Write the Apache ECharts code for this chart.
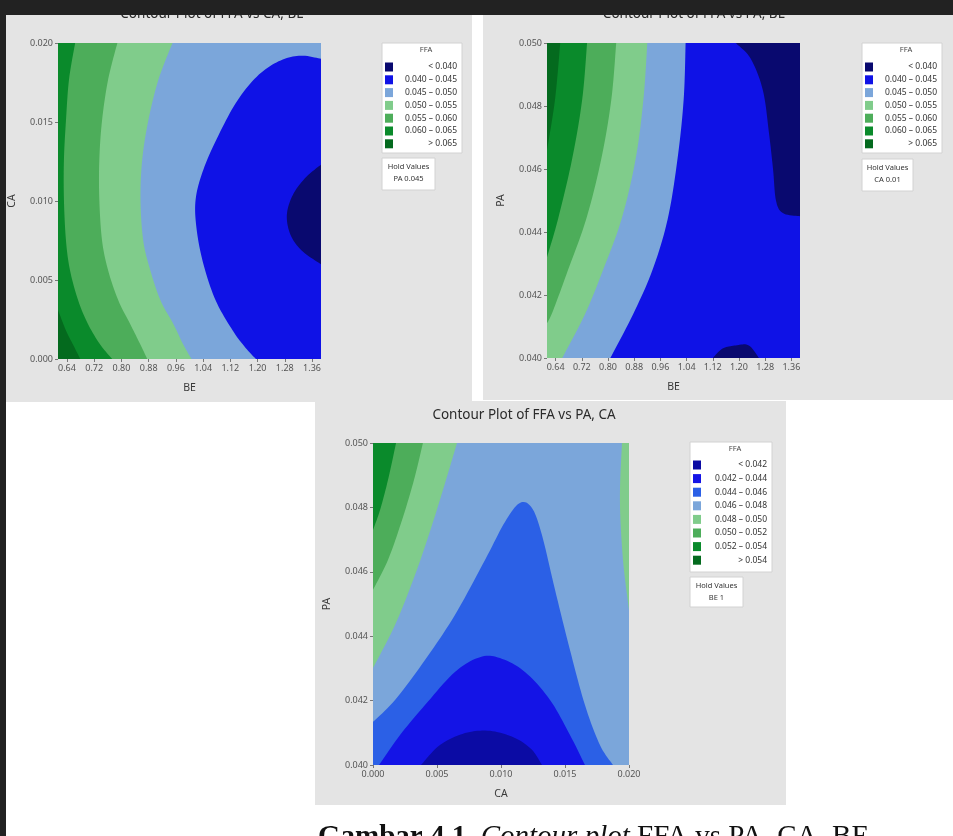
<!DOCTYPE html>
<html><head><meta charset="utf-8">
<script src="https://cdn.jsdelivr.net/npm/echarts@6/dist/echarts.min.js"></script>
<style>html,body{margin:0;padding:0;background:#fff}#c{width:953px;height:836px}</style>
</head><body><div id="c"></div>
<script>
// ---------- axis ranges & ticks ----------
const BE_RANGE = [0.6136, 1.3864];
const CA_RANGE = [0, 0.02];
const PA_RANGE = [0.04, 0.05];
const BE_TICKS = [0.64, 0.72, 0.80, 0.88, 0.96, 1.04, 1.12, 1.20, 1.28, 1.36];
const CA_TICKS = [0, 0.005, 0.010, 0.015, 0.020];
const PA_TICKS = [0.040, 0.042, 0.044, 0.046, 0.048, 0.050];

// ---------- legend labels & colours ----------
const LEG_A = ['< 0.040', '0.040 \u2013 0.045', '0.045 \u2013 0.050', '0.050 \u2013 0.055', '0.055 \u2013 0.060', '0.060 \u2013 0.065', '> 0.065'];
const COL_A = ['#09096f', '#0f12e6', '#7ba6da', '#80cc8b', '#4dad5a', '#0a8a2b', '#046a1e'];
const LEG_C = ['< 0.042', '0.042 \u2013 0.044', '0.044 \u2013 0.046', '0.046 \u2013 0.048', '0.048 \u2013 0.050', '0.050 \u2013 0.052', '0.052 \u2013 0.054', '> 0.054'];
const COL_C = ['#0b0ba4', '#1414e6', '#2b60e6', '#7ba6da', '#80cc8b', '#4dad5a', '#0a8a2b', '#046a1e'];

// ---------- contour boundaries, panel 1 (BE, CA) ----------
const p1_c065 = [[0.6136,0.0031],[0.637,0.0018],[0.658,0.0009],[0.679,0]];
const p1_c060 = [[0.664,0.02],[0.646,0.0177],[0.637,0.0151],[0.631,0.0126],[0.631,0.0101],[0.637,0.0075],[0.649,0.0056],[0.673,0.0037],[0.702,0.0022],[0.738,0.0009],[0.773,0]];
const p1_c055 = [[0.788,0.02],[0.761,0.0177],[0.743,0.0151],[0.735,0.0126],[0.735,0.0101],[0.743,0.0075],[0.761,0.0056],[0.791,0.0037],[0.826,0.0022],[0.856,0.0009],[0.876,0]];
const p1_c050 = [[0.950,0.02],[0.909,0.0177],[0.879,0.0151],[0.861,0.0126],[0.856,0.0101],[0.864,0.0075],[0.885,0.0056],[0.915,0.0037],[0.953,0.0022],[0.982,0.0009],[1.006,0]];
const p1_c045 = [[1.3864,0.0190],[1.327,0.0192],[1.268,0.0189],[1.204,0.0180],[1.142,0.0164],[1.086,0.0142],[1.041,0.0120],[1.018,0.0101],[1.021,0.0082],[1.041,0.0060],[1.077,0.0037],[1.127,0.0018],[1.165,0.0007],[1.195,0]];
const p1_c040 = [[1.3864,0.0123],[1.342,0.0115],[1.304,0.0104],[1.286,0.0091],[1.298,0.0078],[1.333,0.0068],[1.3864,0.0060]];

// ---------- contour boundaries, panel 2 (BE, PA) ----------
const p2_c065 = [[0.654,0.05],[0.638,0.0482],[0.6136,0.0466]];
const p2_c060 = [[0.736,0.05],[0.721,0.0482],[0.690,0.0463],[0.647,0.0444],[0.6136,0.0432]];
const p2_c055 = [[0.825,0.05],[0.810,0.0482],[0.779,0.0463],[0.733,0.0444],[0.678,0.0428],[0.632,0.0415],[0.6136,0.0411]];
const p2_c050 = [[0.920,0.05],[0.908,0.0482],[0.884,0.0463],[0.841,0.0444],[0.785,0.0428],[0.730,0.0414],[0.660,0.04]];
const p2_c045 = [[1.037,0.05],[1.031,0.0482],[1.012,0.0463],[0.982,0.0444],[0.936,0.0428],[0.877,0.0414],[0.807,0.04]];
const p2_c040a = [[1.190,0.05],[1.236,0.0495],[1.273,0.0485],[1.291,0.0472],[1.304,0.0460],[1.313,0.0450],[1.334,0.0446],[1.3864,0.0445]];
const p2_c040b = [[1.120,0.04],[1.150,0.0403],[1.190,0.0404],[1.230,0.0404],[1.261,0.04]];

// ---------- contour boundaries, panel 3 (CA, PA) ----------
const p3_c052 = [[0.0018,0.05],[0.00117,0.04885],[0.00055,0.04792],[0,0.0473]];
const p3_c050 = [[0.0039,0.05],[0.0032,0.04885],[0.00227,0.04761],[0.00117,0.04637],[0,0.04544]];
const p3_c048a = [[0.00656,0.05],[0.0057,0.04885],[0.00461,0.04745],[0.00328,0.0459],[0.00172,0.04435],[0,0.04301]];
const p3_c048b = [[0.01945,0.05],[0.01929,0.04823],[0.01953,0.04637],[0.02,0.04481]];
const p3_c046 = [[0,0.04134],[0.00172,0.04202],[0.00406,0.04326],[0.0064,0.04466],[0.00875,0.04637],[0.01031,0.04755],[0.01148,0.04814],[0.01242,0.04798],[0.0132,0.04714],[0.01422,0.04544],[0.01539,0.04357],[0.01656,0.04186],[0.01773,0.04062],[0.01875,0.04]];
const p3_c044 = [[0.00047,0.04],[0.00211,0.04093],[0.00406,0.04186],[0.0064,0.04289],[0.00836,0.04335],[0.00992,0.04332],[0.01187,0.04289],[0.01383,0.04202],[0.01539,0.04093],[0.01656,0.04]];
const p3_c042 = [[0.00375,0.04],[0.00523,0.04062],[0.00719,0.04099],[0.00914,0.04106],[0.01109,0.04084],[0.01242,0.04047],[0.0132,0.04]];

// ---------- text ----------
const TITLES = ['Contour Plot of FFA vs CA, BE', 'Contour Plot of FFA vs PA, BE', 'Contour Plot of FFA vs PA, CA'];
const HOLD = [['Hold Values', 'PA 0.045'], ['Hold Values', 'CA 0.01'], ['Hold Values', 'BE 1']];
const CAPTION = '{b|Gambar 4.1.} {i|Contour plot} FFA vs PA, CA, BE';

// ---------- layers (painter order) ----------
function rect(xr, yr) { return [[xr[0], yr[0]], [xr[1], yr[0]], [xr[1], yr[1]], [xr[0], yr[1]]]; }
const layers1 = [
  { bnd: rect(BE_RANGE, CA_RANGE), flat: true, close: [], color: COL_A[2] },
  { bnd: p1_c050, close: [[BE_RANGE[0], CA_RANGE[0]], [BE_RANGE[0], CA_RANGE[1]]], color: COL_A[3] },
  { bnd: p1_c055, close: [[BE_RANGE[0], CA_RANGE[0]], [BE_RANGE[0], CA_RANGE[1]]], color: COL_A[4] },
  { bnd: p1_c060, close: [[BE_RANGE[0], CA_RANGE[0]], [BE_RANGE[0], CA_RANGE[1]]], color: COL_A[5] },
  { bnd: p1_c065, close: [[BE_RANGE[0], CA_RANGE[0]]], color: COL_A[6] },
  { bnd: p1_c045, close: [[BE_RANGE[1], CA_RANGE[0]]], color: COL_A[1] },
  { bnd: p1_c040, close: [], color: COL_A[0] }
];
const layers2 = [
  { bnd: rect(BE_RANGE, PA_RANGE), flat: true, close: [], color: COL_A[1] },
  { bnd: p2_c045, close: [[BE_RANGE[0], PA_RANGE[0]], [BE_RANGE[0], PA_RANGE[1]]], color: COL_A[2] },
  { bnd: p2_c050, close: [[BE_RANGE[0], PA_RANGE[0]], [BE_RANGE[0], PA_RANGE[1]]], color: COL_A[3] },
  { bnd: p2_c055, close: [[BE_RANGE[0], PA_RANGE[1]]], color: COL_A[4] },
  { bnd: p2_c060, close: [[BE_RANGE[0], PA_RANGE[1]]], color: COL_A[5] },
  { bnd: p2_c065, close: [[BE_RANGE[0], PA_RANGE[1]]], color: COL_A[6] },
  { bnd: p2_c040a, close: [[BE_RANGE[1], PA_RANGE[1]]], color: COL_A[0] },
  { bnd: p2_c040b, close: [], color: COL_A[0] }
];
const layers3 = [
  { bnd: rect(CA_RANGE, PA_RANGE), flat: true, close: [], color: COL_C[3] },
  { bnd: p3_c048a, close: [[CA_RANGE[0], PA_RANGE[1]]], color: COL_C[4] },
  { bnd: p3_c050, close: [[CA_RANGE[0], PA_RANGE[1]]], color: COL_C[5] },
  { bnd: p3_c052, close: [[CA_RANGE[0], PA_RANGE[1]]], color: COL_C[6] },
  { bnd: p3_c048b, close: [[CA_RANGE[1], PA_RANGE[1]]], color: COL_C[4] },
  { bnd: p3_c046, close: [[CA_RANGE[0], PA_RANGE[0]]], color: COL_C[2] },
  { bnd: p3_c044, close: [], color: COL_C[1] },
  { bnd: p3_c042, close: [], color: COL_C[0] }
];

// spline rendering of boundary (pixel space)
function splinePts(P) {
  if (P.length < 3) return P.slice();
  const out = [];
  for (let i = 0; i < P.length - 1; i++) {
    const p0 = P[i - 1] || P[i], p1 = P[i], p2 = P[i + 1], p3 = P[i + 2] || P[i + 1];
    for (let s = 0; s < 10; s++) {
      const t = s / 10, t2 = t * t, t3 = t2 * t;
      const f = k => 0.5 * (2 * p1[k] + (-p0[k] + p2[k]) * t + (2 * p0[k] - 5 * p1[k] + 4 * p2[k] - p3[k]) * t2 + (-p0[k] + 3 * p1[k] - 3 * p2[k] + p3[k]) * t3);
      out.push([f(0), f(1)]);
    }
  }
  out.push(P[P.length - 1]);
  return out;
}

function layerSeries(gi, layers) {
  return layers.map(L => ({
    type: 'custom', xAxisIndex: gi, yAxisIndex: gi, clip: true, silent: true,
    data: [L.bnd[0]],
    renderItem: (params, api) => {
      const b = L.bnd.map(p => api.coord(p));
      let pts = L.flat ? b : splinePts(b);
      pts = pts.concat(L.close.map(p => api.coord(p)));
      return { type: 'polygon', shape: { points: pts }, style: { fill: L.color } };
    }
  }));
}

const FONT = '"Noto Sans", "Open Sans", sans-serif';
function axisCfg(gi, range, ticks, dec, name, gap) {
  return {
    type: 'value', gridIndex: gi, min: range[0], max: range[1],
    name: name, nameLocation: 'middle', nameGap: gap,
    nameTextStyle: { fontSize: 10.5, color: '#3a3a3a', fontFamily: FONT },
    axisLine: { show: false }, splitLine: { show: false },
    axisTick: { show: true, length: 3, lineStyle: { color: '#777' }, customValues: ticks },
    axisLabel: { customValues: ticks, formatter: v => v.toFixed(dec), fontSize: 9, color: '#555', fontFamily: FONT, margin: 5 }
  };
}

// ---------- graphics: page, titles, legends, caption ----------
const graphics = [];
graphics.push({ type: 'rect', z: -10, shape: { x: 6, y: 15, width: 466, height: 387 }, style: { fill: '#e4e4e4' } });
graphics.push({ type: 'rect', z: -10, shape: { x: 483, y: 15, width: 470, height: 385 }, style: { fill: '#e4e4e4' } });
graphics.push({ type: 'rect', z: -10, shape: { x: 315, y: 401, width: 471, height: 404 }, style: { fill: '#e4e4e4' } });

const titlePos = [[212, 14], [694, 14], [524, 415]];
TITLES.forEach((t, i) => graphics.push({
  type: 'text', x: titlePos[i][0], y: titlePos[i][1], z: 5,
  style: { text: t, font: '13.5px ' + FONT, fill: '#2b2b2b', align: 'center', verticalAlign: 'middle' }
}));

function legend(box, labels, colors, rowY0, dy, hold, holdBox) {
  graphics.push({ type: 'rect', z: 5, shape: { x: box[0], y: box[1], width: box[2], height: box[3] }, style: { fill: '#fff', stroke: '#d2d2d2', lineWidth: 1 } });
  graphics.push({ type: 'text', z: 6, x: box[0] + box[2] / 2 + 4, y: box[1] + 7, style: { text: 'FFA', font: '7.5px ' + FONT, fill: '#444', align: 'center', verticalAlign: 'middle' } });
  labels.forEach((lab, k) => {
    const y = rowY0 + k * dy;
    graphics.push({ type: 'rect', z: 6, shape: { x: box[0] + 3, y: y - 4.5, width: 8, height: 9 }, style: { fill: colors[k] } });
    graphics.push({ type: 'text', z: 6, x: box[0] + box[2] - 5, y: y, style: { text: lab, font: '8.5px ' + FONT, fill: '#333', align: 'right', verticalAlign: 'middle' } });
  });
  graphics.push({ type: 'rect', z: 5, shape: { x: holdBox[0], y: holdBox[1], width: holdBox[2], height: holdBox[3] }, style: { fill: '#fff', stroke: '#d2d2d2', lineWidth: 1 } });
  hold.forEach((t, k) => graphics.push({ type: 'text', z: 6, x: holdBox[0] + holdBox[2] / 2, y: holdBox[1] + 9 + k * 12, style: { text: t, font: '7.5px ' + FONT, fill: '#333', align: 'center', verticalAlign: 'middle' } }));
}
legend([382, 43, 80, 110], LEG_A, COL_A, 67, 12.8, HOLD[0], [382, 158, 53, 32]);
legend([862, 43, 80, 110], LEG_A, COL_A, 67, 12.8, HOLD[1], [862, 159, 51, 32]);
legend([690, 442, 82, 130], LEG_C, COL_C, 465, 13.6, HOLD[2], [690, 577, 53, 30]);

graphics.push({
  type: 'text', x: 318, y: 823, z: 5,
  style: { text: CAPTION, font: '29px "Liberation Serif", serif', fill: '#111', align: 'left', verticalAlign: 'top',
    rich: { b: { fontWeight: 'bold', fontSize: 29, fontFamily: '"Liberation Serif", serif' }, i: { fontStyle: 'italic', fontSize: 29, fontFamily: '"Liberation Serif", serif' } } }
});
// dark page frame
graphics.push({ type: 'rect', z: 100, shape: { x: 0, y: 0, width: 953, height: 15 }, style: { fill: '#222' } });
graphics.push({ type: 'rect', z: 100, shape: { x: 0, y: 0, width: 6, height: 836 }, style: { fill: '#222' } });

const option = {
  backgroundColor: '#ffffff',
  animation: false,
  grid: [
    { left: 58, top: 43, width: 263, height: 316 },
    { left: 547, top: 43, width: 253, height: 315 },
    { left: 373, top: 443, width: 256, height: 322 }
  ],
  xAxis: [
    axisCfg(0, BE_RANGE, BE_TICKS, 2, 'BE', 24),
    axisCfg(1, BE_RANGE, BE_TICKS, 2, 'BE', 24),
    axisCfg(2, CA_RANGE, CA_TICKS, 3, 'CA', 24)
  ],
  yAxis: [
    axisCfg(0, CA_RANGE, CA_TICKS, 3, 'CA', 40),
    axisCfg(1, PA_RANGE, PA_TICKS, 3, 'PA', 40),
    axisCfg(2, PA_RANGE, PA_TICKS, 3, 'PA', 40)
  ],
  graphic: { elements: graphics },
  series: [].concat(layerSeries(0, layers1), layerSeries(1, layers2), layerSeries(2, layers3))
};
const chart = echarts.init(document.getElementById('c'));
chart.setOption(option);
</script></body></html>
